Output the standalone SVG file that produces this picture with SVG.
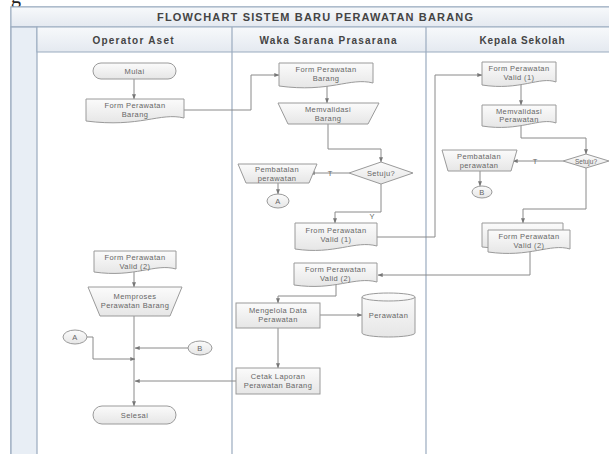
<svg xmlns="http://www.w3.org/2000/svg" width="609" height="454" viewBox="0 0 609 454">
<style>
.frame{fill:#ffffff;stroke:#9aabbf;stroke-width:1.2}
.band{fill:url(#hdr);stroke:#9aabbf;stroke-width:1}
.strip{fill:#e8eef5;stroke:#9aabbf;stroke-width:1.2}
.lane{stroke:#9aabbf;stroke-width:1.2;fill:none}
.title{font-family:"Liberation Sans",Arial,sans-serif;font-weight:bold;font-size:11px;fill:#444;text-anchor:middle}
.head{font-family:"Liberation Sans",Arial,sans-serif;font-weight:bold;font-size:10px;fill:#444;text-anchor:middle}
.shp{fill:url(#shade);stroke:#9a9a9a;stroke-width:1}
.t{font-family:"Liberation Sans",Arial,sans-serif;font-size:7.5px;fill:#666;text-anchor:middle;letter-spacing:0.4px}
.c{fill:none;stroke:#8a8a8a;stroke-width:1}
.lbl{font-family:"Liberation Sans",Arial,sans-serif;font-size:7.5px;fill:#666;text-anchor:middle}
</style>
<defs>
<linearGradient id="shade" x1="0" y1="0" x2="0" y2="1">
<stop offset="0" stop-color="#fbfbfb"/><stop offset="1" stop-color="#e6e6e6"/>
</linearGradient>
<linearGradient id="hdr" x1="0" y1="0" x2="0" y2="1">
<stop offset="0" stop-color="#f7f9fb"/><stop offset="1" stop-color="#e4e9f0"/>
</linearGradient>
<marker id="ar" viewBox="0 0 8 8" refX="7.5" refY="4" markerWidth="5" markerHeight="5" orient="auto" markerUnits="userSpaceOnUse">
<path d="M0,0.8 L8,4 L0,7.2 Z" fill="#777"/>
</marker>
</defs>
<rect width="609" height="454" fill="#ffffff"/>
<text x="11" y="3" font-family="Liberation Serif,serif" font-size="20" fill="#222">g</text>

<g id="pool">
<rect class="frame" x="11" y="7" width="609" height="460"/>
<rect class="band" x="11" y="7" width="609" height="20"/>
<rect class="strip" x="11" y="27" width="26" height="440"/>
<rect class="band" x="37" y="27" width="583" height="25"/>
<line class="lane" x1="232" y1="27" x2="232" y2="454"/>
<line class="lane" x1="426" y1="27" x2="426" y2="454"/>
<text class="title" x="315" y="21" textLength="316" lengthAdjust="spacing">FLOWCHART SISTEM BARU PERAWATAN BARANG</text>
<text class="head" x="133" y="44" textLength="81" lengthAdjust="spacing">Operator Aset</text>
<text class="head" x="328" y="44" textLength="137" lengthAdjust="spacing">Waka Sarana Prasarana</text>
<text class="head" x="522" y="44" textLength="85" lengthAdjust="spacing">Kepala Sekolah</text>
</g>

<g id="connectors">
<path class="c" d="M134,79 V99" marker-end="url(#ar)"/>
<path class="c" d="M184,110 H251 V75 H279" marker-end="url(#ar)"/>
<path class="c" d="M327,86 V103" marker-end="url(#ar)"/>
<path class="c" d="M328,124 V149 H381 V162" marker-end="url(#ar)"/>
<path class="c" d="M349,173 H310" marker-end="url(#ar)"/>
<text class="lbl" x="330" y="176">T</text>
<path class="c" d="M278,183 V194" marker-end="url(#ar)"/>
<path class="c" d="M381,184 V212 H335 V223" marker-end="url(#ar)"/>
<text class="lbl" x="372" y="219">Y</text>
<path class="c" d="M377,237 H435 V75 H482" marker-end="url(#ar)"/>
<path class="c" d="M521,85 V105" marker-end="url(#ar)"/>
<path class="c" d="M521,126 V138 H586 V154" marker-end="url(#ar)"/>
<path class="c" d="M563,161 H513" marker-end="url(#ar)"/>
<text class="lbl" x="535" y="164">T</text>
<path class="c" d="M480,171 V186" marker-end="url(#ar)"/>
<path class="c" d="M586,168 V209 H523 V223" marker-end="url(#ar)"/>
<path class="c" d="M530,250 V275 H378" marker-end="url(#ar)"/>
<path class="c" d="M336,285 V296 H278 V303" marker-end="url(#ar)"/>
<path class="c" d="M320,315 H362" marker-end="url(#ar)"/>
<path class="c" d="M278,328 V368" marker-end="url(#ar)"/>
<path class="c" d="M236,381 H135" marker-end="url(#ar)"/>
<path class="c" d="M134,272 V287" marker-end="url(#ar)"/>
<path class="c" d="M134,316 V406" marker-end="url(#ar)"/>
<path class="c" d="M87,337 H93 V359 H135" marker-end="url(#ar)"/>
<path class="c" d="M188,348 H135" marker-end="url(#ar)"/>
</g>

<g id="mulai">
<rect class="shp" x="93" y="63" width="83" height="16" rx="8"/>
<text class="t" x="134.5" y="73.5">Mulai</text>
</g>
<g id="form-barang-op">
<path class="shp" d="M86,99 H184 V118 C160,112 140,128 86,121 Z"/>
<text class="t" x="135" y="107.5">Form Perawatan</text>
<text class="t" x="135" y="116.5">Barang</text>
</g>
<g id="form-barang-waka">
<path class="shp" d="M279,63 H373 V83 C350,77 330,93 279,86 Z"/>
<text class="t" x="326" y="72">Form Perawatan</text>
<text class="t" x="326" y="81">Barang</text>
</g>
<g id="memvalidasi-barang">
<path class="shp" d="M278,103 H379 L368,124 H288 Z"/>
<text class="t" x="328" y="112">Memvalidasi</text>
<text class="t" x="328" y="121">Barang</text>
</g>
<g id="setuju-waka">
<path class="shp" d="M381,162 L413,173 L381,184 L349,173 Z"/>
<text class="t" x="381" y="175.5">Setuju?</text>
</g>
<g id="pembatalan-waka">
<path class="shp" d="M238,164 H317 L309,183 H246 Z"/>
<text class="t" x="277" y="172">Pembatalan</text>
<text class="t" x="277" y="180.5">perawatan</text>
</g>
<g id="conn-a-waka">
<ellipse class="shp" cx="278" cy="201" rx="11" ry="7"/>
<text class="t" x="278" y="203.5">A</text>
</g>
<g id="valid1-waka">
<path class="shp" d="M295,223 H377 V246 C355,240 335,255 295,249 Z"/>
<text class="t" x="336" y="233">From Perawatan</text>
<text class="t" x="336" y="242">Valid (1)</text>
</g>
<g id="valid1-kepala">
<path class="shp" d="M482,62 H556 V82 C540,76 520,91 482,85 Z"/>
<text class="t" x="519" y="71">Form Perawatan</text>
<text class="t" x="519" y="80">Valid (1)</text>
</g>
<g id="memvalidasi-perawatan">
<path class="shp" d="M482,105 H556 V123 C540,117 520,132 482,126 Z"/>
<text class="t" x="519" y="113.5">Memvalidasi</text>
<text class="t" x="519" y="122">Perawatan</text>
</g>
<g id="setuju-kepala">
<path class="shp" d="M586,154 L609,161 L586,168 L563,161 Z"/>
<text class="t" x="586" y="163.5" style="font-size:6.5px;letter-spacing:0">Setuju?</text>
</g>
<g id="pembatalan-kepala">
<path class="shp" d="M442,150 H517 L511,171 H448 Z"/>
<text class="t" x="479" y="159">Pembatalan</text>
<text class="t" x="479" y="167.5">perawatan</text>
</g>
<g id="conn-b-kepala">
<ellipse class="shp" cx="482" cy="192" rx="10" ry="6"/>
<text class="t" x="482" y="194.5">B</text>
</g>
<g id="valid2-kepala">
<path class="shp" d="M482,223 H563 V244 C545,238 525,252 482,247 Z"/>
<path class="shp" d="M488,230 H570 V249 C550,243 530,258 488,252 Z"/>
<text class="t" x="529" y="239">Form Perawatan</text>
<text class="t" x="529" y="248">Valid (2)</text>
</g>
<g id="valid2-waka">
<path class="shp" d="M294,263 H377 V282 C355,276 335,291 294,285 Z"/>
<text class="t" x="335.5" y="272">Form Perawatan</text>
<text class="t" x="335.5" y="281">Valid (2)</text>
</g>
<g id="mengelola">
<rect class="shp" x="236" y="303" width="84" height="25"/>
<text class="t" x="278" y="313">Mengelola Data</text>
<text class="t" x="278" y="322">Perawatan</text>
</g>
<g id="db-perawatan">
<path class="shp" d="M362,297 A26.5,4 0 0 1 415,297 V333 A26.5,4 0 0 1 362,333 Z"/>
<path class="c" d="M362,297 A26.5,4 0 0 0 415,297" style="stroke:#9a9a9a"/>
<text class="t" x="388.5" y="317.5">Perawatan</text>
</g>
<g id="cetak">
<rect class="shp" x="236" y="368" width="84" height="26"/>
<text class="t" x="278" y="378.5">Cetak Laporan</text>
<text class="t" x="278" y="387.5">Perawatan Barang</text>
</g>
<g id="valid2-op">
<path class="shp" d="M94,251 H176 V269 C155,263 135,278 94,272 Z"/>
<text class="t" x="135" y="260">Form Perawatan</text>
<text class="t" x="135" y="269">Valid (2)</text>
</g>
<g id="memproses">
<path class="shp" d="M88,287 H182 L170,316 H100 Z"/>
<text class="t" x="135" y="299">Memproses</text>
<text class="t" x="135" y="308">Perawatan Barang</text>
</g>
<g id="conn-a-op">
<ellipse class="shp" cx="75" cy="337" rx="12" ry="7"/>
<text class="t" x="75" y="339.5">A</text>
</g>
<g id="conn-b-op">
<ellipse class="shp" cx="200" cy="348" rx="12" ry="7"/>
<text class="t" x="200" y="350.5">B</text>
</g>
<g id="selesai">
<rect class="shp" x="93" y="406" width="83" height="18" rx="9"/>
<text class="t" x="134.5" y="417.5">Selesai</text>
</g>
</svg>
